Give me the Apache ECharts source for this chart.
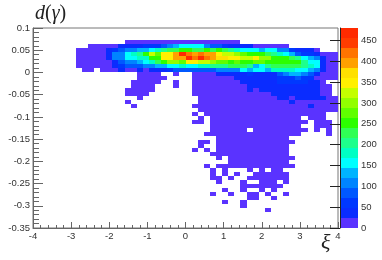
<!DOCTYPE html>
<html><head><meta charset="utf-8">
<script src="https://cdn.jsdelivr.net/npm/echarts@6/dist/echarts.min.js"></script>
<style>html,body{margin:0;padding:0;background:#fff}#c{width:382px;height:260px}</style>
</head><body><div id="c"></div>
<script>
const xBinStart=-4, xBinWidth=0.16;
const yBinTop=0.073, yBinHeight=0.009;
const xTickMin=-4, xTickMax=4;
const yTickMin=-0.35, yTickMax=0.1;
const paletteColors=['#5a33ff','#0a2cff','#0038ff','#0058ff','#0084ff','#00b4ff','#00ffff','#00ffc4','#1eff8c','#30ff55','#2cff00','#60ff00','#92ff00','#c4ff00','#fff000','#ffe000','#ffa000','#ff7400','#ff3c00','#ff2a00'];
const contourStep=24, zMax=480;
const row00=[0,0,0,0,0,0,0,0,0,0,0,0,0,0,0,12,12,12,12,12,12,12,12,12,12,12,12,12,12,12,12,12,12,12];
const row01=[0,0,0,0,0,0,0,0,0,12,12,12,12,12,36,36,36,36,60,60,60,84,108,132,156,156,156,156,108,84,84,60,36,36,36,36,12,12,12,12,12,12];
const row02=[0,0,0,0,0,0,0,12,12,12,12,12,36,60,84,108,108,132,132,156,180,204,228,228,252,252,228,228,252,228,252,228,204,180,156,156,156,132,156,156,108,108,60,36,36,36,12];
const row03=[0,0,0,0,0,0,0,12,12,12,12,12,36,108,108,156,180,204,252,324,276,348,348,396,468,420,396,420,396,396,348,324,324,300,276,252,252,252,228,204,180,156,132,84,60,60,36,12,12,12];
const row04=[0,0,0,0,0,0,0,12,12,12,12,12,36,108,108,156,156,180,180,252,252,348,348,396,396,468,420,468,420,396,372,372,348,348,324,324,348,300,300,252,252,252,228,204,156,132,108,36,12,12];
const row05=[0,0,0,0,0,0,0,12,12,12,12,12,12,36,84,108,108,132,156,180,228,252,300,300,276,348,348,324,324,300,276,276,252,276,252,252,276,276,252,252,252,252,252,252,204,156,156,36,12,12];
const row06=[0,0,0,0,0,0,0,12,12,12,12,12,12,36,60,84,84,84,108,108,132,132,156,156,180,156,156,180,180,204,204,204,228,228,228,204,132,156,204,228,228,228,228,228,204,180,156,36,12,12];
const row07=[0,0,0,0,0,0,0,0,12,12,0,12,12,12,36,12,12,36,12,36,36,36,60,84,84,84,84,84,84,84,108,108,108,108,156,132,156,156,132,180,180,180,180,156,156,132,108,36,12,12];
const row08=[0,0,0,0,0,0,0,0,0,0,0,0,0,0,0,0,0,12,12,12,12,0,0,12,0,0,12,12,12,12,36,36,36,36,36,60,36,36,36,36,84,108,132,132,108,84,36,12,12,12];
const row09=[0,0,0,0,0,0,0,0,0,0,0,0,0,0,0,0,0,12,12,12,12,12,0,0,0,0,12,12,12,12,12,12,12,36,36,36,36,36,36,36,60,60,60,84,60,60,12,12,12,12];
const row10=[0,0,0,0,0,0,0,0,0,0,0,0,0,0,0,0,12,12,12,12,12,0,0,12,0,0,12,12,12,12,12,12,12,12,36,36,36,36,36,36,60,60,60,60,60,36,36,12];
const row11=[0,0,0,0,0,0,0,0,0,0,0,0,0,0,0,0,12,12,12,12,0,0,0,12,0,0,12,12,12,12,12,12,12,12,12,36,36,36,36,36,36,36,36,36,36,36,36,12,12];
const row12=[0,0,0,0,0,0,0,0,0,0,0,0,0,0,0,12,12,12,12,12,0,0,0,0,0,0,12,12,12,12,12,12,12,12,12,36,12,36,36,36,36,36,36,36,36,36,36,12,12];
const row13=[0,0,0,0,0,0,0,0,0,0,0,0,0,0,0,12,12,12,12,0,0,0,0,0,0,0,12,12,12,12,12,12,12,12,12,12,12,12,12,36,36,36,36,36,36,36,36,12,12];
const row14=[0,0,0,0,0,0,0,0,0,0,0,0,0,0,0,0,0,12,0,0,0,0,0,0,0,0,0,12,12,12,12,12,12,12,12,12,12,12,12,12,36,36,12,36,36,36,36,36,12,12];
const row15=[0,0,0,0,0,0,0,0,0,0,0,0,0,0,0,12,0,0,0,0,0,0,0,0,0,0,0,12,12,12,12,12,12,12,12,12,12,12,12,12,12,12,36,12,12,12,12,12,12,12];
const row16=[0,0,0,0,0,0,0,0,0,0,0,0,0,0,0,0,12,0,0,0,0,0,0,0,0,0,12,12,12,12,12,12,12,12,12,12,12,12,12,12,12,12,12,12,12,36,12,12,12,12];
const row17=[0,0,0,0,0,0,0,0,0,0,0,0,0,0,0,0,0,0,0,0,0,0,0,0,0,0,0,12,12,12,12,12,12,12,12,12,12,12,12,12,12,12,12,12,12,12,12,12,12,12];
const row18=[0,0,0,0,0,0,0,0,0,0,0,0,0,0,0,0,0,0,0,0,0,0,0,0,0,0,12,0,12,12,12,12,12,12,12,12,12,12,12,12,12,12,12,12,12,12,12,12];
const row19=[0,0,0,0,0,0,0,0,0,0,0,0,0,0,0,0,0,0,0,0,0,0,0,0,0,0,0,12,0,12,12,12,12,12,12,12,12,12,12,12,12,12,12,12,0,12,12,12];
const row20=[0,0,0,0,0,0,0,0,0,0,0,0,0,0,0,0,0,0,0,0,0,0,0,0,0,0,12,12,0,12,12,12,12,12,12,12,12,12,12,12,12,12,12,12,12,0,12,12,12];
const row21=[0,0,0,0,0,0,0,0,0,0,0,0,0,0,0,0,0,0,0,0,0,0,0,0,0,0,0,0,0,12,12,12,12,12,12,12,12,12,12,12,12,12,12,12,0,0,12,12,12];
const row22=[0,0,0,0,0,0,0,0,0,0,0,0,0,0,0,0,0,0,0,0,0,0,0,0,0,0,0,0,0,12,12,12,12,12,12,0,12,12,12,12,12,12,12,12,12,0,12,0,12];
const row23=[0,0,0,0,0,0,0,0,0,0,0,0,0,0,0,0,0,0,0,0,0,0,0,0,0,0,0,0,12,12,12,12,12,12,12,12,12,12,12,12,12,12,12,12,0,0,0,0,12];
const row24=[0,0,0,0,0,0,0,0,0,0,0,0,0,0,0,0,0,0,0,0,0,0,0,0,0,0,0,0,0,0,12,12,12,12,12,12,12,12,12,12,12,12];
const row25=[0,0,0,0,0,0,0,0,0,0,0,0,0,0,0,0,0,0,0,0,0,0,0,0,0,0,0,12,12,0,12,12,12,12,12,12,12,12,12,12,12,12,12];
const row26=[0,0,0,0,0,0,0,0,0,0,0,0,0,0,0,0,0,0,0,0,0,0,0,0,0,0,0,12,0,0,12,12,12,12,12,12,12,12,12,12,12,12];
const row27=[0,0,0,0,0,0,0,0,0,0,0,0,0,0,0,0,0,0,0,0,0,0,0,0,0,0,12,0,12,0,12,12,12,12,12,12,12,12,12,12,12,12];
const row28=[0,0,0,0,0,0,0,0,0,0,0,0,0,0,0,0,0,0,0,0,0,0,0,0,0,0,0,0,0,12,12,12,12,12,12,12,12,12,12,12,12,12];
const row29=[0,0,0,0,0,0,0,0,0,0,0,0,0,0,0,0,0,0,0,0,0,0,0,0,0,0,0,0,0,0,12,0,12,12,12,12,12,12,12,12,12,12,12];
const row30=[0,0,0,0,0,0,0,0,0,0,0,0,0,0,0,0,0,0,0,0,0,0,0,0,0,0,0,0,0,0,0,0,12,12,12,12,12,12,12,12,12,12];
const row31=[0,0,0,0,0,0,0,0,0,0,0,0,0,0,0,0,0,0,0,0,0,0,0,0,0,0,0,0,12,0,12,12,12,12,12,12,12,12,12,12,12,12,12];
const row32=[0,0,0,0,0,0,0,0,0,0,0,0,0,0,0,0,0,0,0,0,0,0,0,0,0,0,0,0,0,12,0,12,0,0,0,12,0,12,0,12,12];
const row33=[0,0,0,0,0,0,0,0,0,0,0,0,0,0,0,0,0,0,0,0,0,0,0,0,0,0,0,0,0,12,0,12,0,12,0,0,12,12,12,12,12,12];
const row34=[0,0,0,0,0,0,0,0,0,0,0,0,0,0,0,0,0,0,0,0,0,0,0,0,0,0,0,0,0,12,12,0,12,0,0,12,12,12,12,12,12,12];
const row35=[0,0,0,0,0,0,0,0,0,0,0,0,0,0,0,0,0,0,0,0,0,0,0,0,0,0,0,0,0,0,12,0,0,0,12,0,0,12,12,12,0,12];
const row36=[0,0,0,0,0,0,0,0,0,0,0,0,0,0,0,0,0,0,0,0,0,0,0,0,0,0,0,0,0,0,0,0,0,0,12,12,12,12,12,12,12];
const row37=[0,0,0,0,0,0,0,0,0,0,0,0,0,0,0,0,0,0,0,0,0,0,0,0,0,0,0,0,0,0,0,12,0,0,12,0,0,12,0,12];
const row38=[0,0,0,0,0,0,0,0,0,0,0,0,0,0,0,0,0,0,0,0,0,0,0,0,0,0,0,0,0,12,0,0,12,0,0,12,12,0,12,0,0,12];
const row39=[0,0,0,0,0,0,0,0,0,0,0,0,0,0,0,0,0,0,0,0,0,0,0,0,0,0,0,0,0,0,0,0,0,0,0,12,12,0,0,12];
const row40=[0,0,0,0,0,0,0,0,0,0,0,0,0,0,0,0,0,0,0,0,0,0,0,0,0,0,0,0,0,0,0,12,0,0,12];
const row41=[0,0,0,0,0,0,0,0,0,0,0,0,0,0,0,0,0,0,0,0,0,0,0,0,0,0,0,0,0,0,0,0,0,0,12];
const row42=[0,0,0,0,0,0,0,0,0,0,0,0,0,0,0,0,0,0,0,0,0,0,0,0,0,0,0,0,0,0,0,0,0,0,0,0,0,0,12];
const rows=[row00,row01,row02,row03,row04,row05,row06,row07,row08,row09,row10,row11,row12,row13,row14,row15,row16,row17,row18,row19,row20,row21,row22,row23,row24,row25,row26,row27,row28,row29,row30,row31,row32,row33,row34,row35,row36,row37,row38,row39,row40,row41,row42];

const cells=[];
rows.forEach((row,r)=>row.forEach((v,i)=>{
  if(v>0){
    const x0=xBinStart+i*xBinWidth, y1=yBinTop-r*yBinHeight;
    cells.push([x0,x0+xBinWidth,y1-yBinHeight,y1,v]);
  }
}));
const bandData=paletteColors.map((c,k)=>[k*contourStep,(k+1)*contourStep,k]);
const FONT='"Liberation Sans",Arial,sans-serif';
const axisColor='#666', textColor='#333';
const chart=echarts.init(document.getElementById('c'),null,{renderer:'canvas'});
chart.setOption({
  animation:false,
  backgroundColor:'#fff',
  title:[
    {text:'{i|d}{u|(}{i|γ}{u|)}',left:35,top:4,padding:0,textStyle:{fontWeight:'normal',rich:{
      i:{fontFamily:'"Liberation Serif",serif',fontStyle:'italic',fontWeight:'normal',fontSize:20,color:'#222'},
      u:{fontFamily:'"Liberation Serif",serif',fontWeight:'normal',fontSize:20,color:'#222'}}}},
    {text:'ξ',left:321,top:232,padding:0,textStyle:{fontFamily:'"Liberation Serif",serif',fontStyle:'italic',fontWeight:'normal',fontSize:22,color:'#222'}}
  ],
  grid:[
    {left:33,top:28,width:305,height:200,show:true,borderColor:'#777',borderWidth:1,backgroundColor:'#fff'},
    {left:340,top:28,width:18,height:200}
  ],
  xAxis:[
    {type:'value',gridIndex:0,min:xTickMin,max:xTickMax,interval:1,
     axisLine:{onZero:false,lineStyle:{color:axisColor,width:1}},
     axisTick:{inside:true,length:6,lineStyle:{color:axisColor}},
     minorTick:{show:true,splitNumber:5,length:3,lineStyle:{color:axisColor}},
     splitLine:{show:false},
     axisLabel:{color:textColor,fontFamily:FONT,fontSize:9.5,margin:3,showMinLabel:true,showMaxLabel:true,hideOverlap:false}},
    {type:'value',gridIndex:1,min:0,max:1,show:false}
  ],
  yAxis:[
    {type:'value',gridIndex:0,min:yTickMin,max:yTickMax,interval:0.05,
     axisLine:{onZero:false,lineStyle:{color:axisColor,width:1}},
     axisTick:{inside:true,length:10,lineStyle:{color:axisColor}},
     minorTick:{show:true,splitNumber:5,length:6,lineStyle:{color:axisColor}},
     splitLine:{show:false},
     axisLabel:{color:textColor,fontFamily:FONT,fontSize:9.5,margin:3,showMinLabel:true,showMaxLabel:true,hideOverlap:false}},
    {type:'value',gridIndex:1,position:'right',min:0,max:zMax,interval:50,z:10,
     axisLine:{lineStyle:{color:'#222',width:1}},
     axisTick:{inside:true,length:10,lineStyle:{color:'#222'}},
     splitLine:{show:false},
     axisLabel:{color:textColor,fontFamily:FONT,fontSize:9.5,margin:3,showMaxLabel:false,hideOverlap:false}}
  ],
  series:[
    {type:'custom',coordinateSystem:'cartesian2d',xAxisIndex:0,yAxisIndex:0,silent:true,clip:true,
     encode:{x:[0,1],y:[2,3]},data:cells,
     renderItem(params,api){
       const a=api.coord([api.value(0),api.value(3)]), b=api.coord([api.value(1),api.value(2)]);
       const k=Math.min(paletteColors.length-1,Math.floor(api.value(4)/contourStep));
       const x0=Math.round(a[0]),y0=Math.round(a[1]),x1=Math.round(b[0]),y1=Math.round(b[1]);
       return {type:'rect',shape:{x:x0,y:y0,width:x1-x0,height:y1-y0},style:{fill:paletteColors[k],stroke:null}};
     }},
    {type:'custom',coordinateSystem:'cartesian2d',xAxisIndex:1,yAxisIndex:1,silent:true,
     encode:{y:[0,1]},data:bandData,
     renderItem(params,api){
       const a=api.coord([0,api.value(1)]), b=api.coord([1,api.value(0)]);
       const y0=Math.round(a[1]),y1=Math.round(b[1]);
       return {type:'rect',shape:{x:a[0],y:y0,width:b[0]-a[0],height:y1-y0},style:{fill:paletteColors[api.value(2)],stroke:null}};
     }}
  ]
});
</script></body></html>
